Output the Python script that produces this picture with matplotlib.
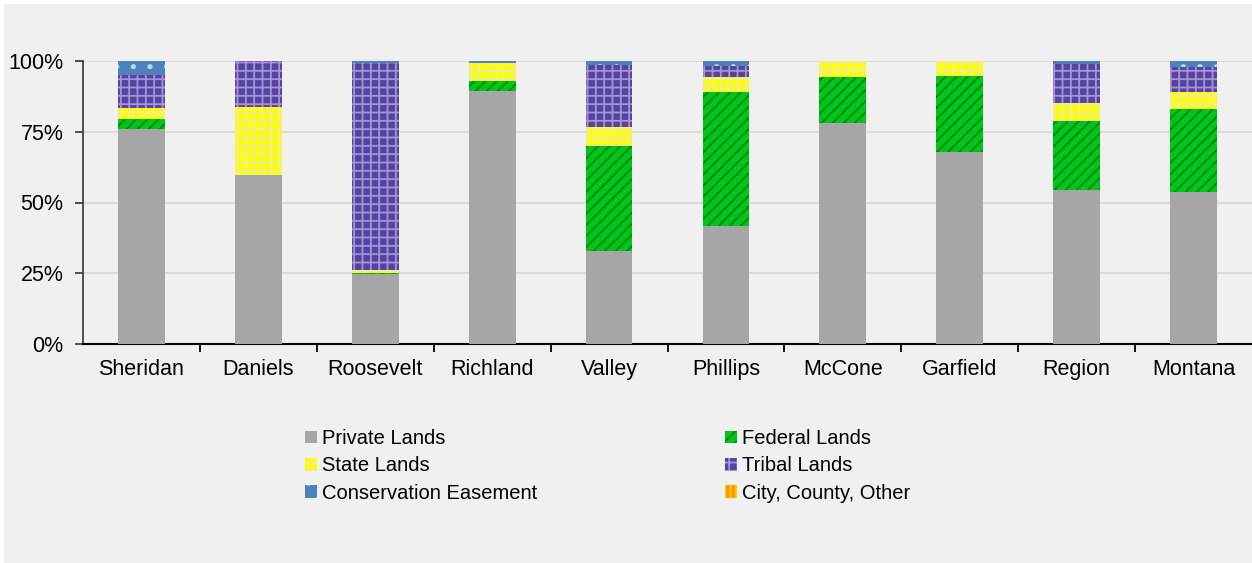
import matplotlib.pyplot as plt
from matplotlib.patches import Rectangle
from matplotlib.ticker import FixedLocator, PercentFormatter

# Share of land area by ownership type, percent of each county total
counties = ["Sheridan", "Daniels", "Roosevelt", "Richland", "Valley",
            "Phillips", "McCone", "Garfield", "Region", "Montana"]
private_lands = [76.0, 59.7, 24.7, 89.4, 32.9, 41.7, 78.2, 67.7, 54.4, 53.8]
federal_lands = [3.4, 0.1, 0.3, 3.5, 37.1, 47.5, 16.3, 27.1, 24.5, 29.1]
state_lands = [4.0, 23.9, 1.1, 6.3, 6.6, 5.0, 5.5, 5.2, 6.4, 6.0]
tribal_lands = [11.6, 16.3, 73.3, 0.0, 22.0, 4.0, 0.0, 0.0, 13.6, 8.9]
conservation_easement = [5.0, 0.0, 0.6, 0.8, 1.4, 1.8, 0.0, 0.0, 1.1, 2.2]
city_county_other = [0.0, 0.0, 0.0, 0.0, 0.0, 0.0, 0.0, 0.0, 0.0, 0.0]

series = [
    ("Private Lands", private_lands, "#a6a6a6", "#a6a6a6", None),
    ("Federal Lands", federal_lands, "#00c41f", "#008a00", "///"),
    ("State Lands", state_lands, "#ffff00", "#ecec9c", "++"),
    ("Tribal Lands", tribal_lands, "#55449f", "#a493d8", "++"),
    ("Conservation Easement", conservation_easement, "#4f81bd", "#a9dcf2", "."),
    ("City, County, Other", city_county_other, "#ff9900", "#ffd200", "|||"),
]

plt.rcParams["font.family"] = ["Liberation Sans", "DejaVu Sans"]
plt.rcParams["hatch.linewidth"] = 1.3

W, H = 1252, 563
fig = plt.figure(figsize=(W / 100, H / 100), dpi=100, facecolor="white")
fig.patches.append(Rectangle((4 / W, 0), 1 - 4 / W, 1 - 4 / H,
                             transform=fig.transFigure, facecolor="#f0f0f0",
                             edgecolor="none", zorder=-10))

ax = fig.add_axes([83 / W, 219 / H, (W - 83) / W, 283 / H])
ax.set_facecolor("none")

x = list(range(len(counties)))
bottom = [0.0] * len(counties)
handles = {}
for name, vals, face, hatch_col, hatch in series:
    bars = ax.bar(x, vals, width=0.4, bottom=bottom, color=face,
                  edgecolor=hatch_col, linewidth=0, hatch=hatch, label=name,
                  zorder=3)
    handles[name] = bars
    bottom = [b + v for b, v in zip(bottom, vals)]

ax.set_xlim(-0.5, len(counties) - 0.5)
ax.set_ylim(0, 100)
ax.set_yticks([0, 25, 50, 75, 100])
ax.yaxis.set_major_formatter(PercentFormatter(decimals=0))
ax.yaxis.grid(True, color="#d9d9d9", linewidth=1.3, zorder=0)
ax.set_axisbelow(True)

# category boundaries get the tick marks, labels sit between them
ax.xaxis.set_major_locator(FixedLocator([i + 0.5 for i in x[:-1]]))
ax.xaxis.set_minor_locator(FixedLocator(x))
ax.xaxis.set_major_formatter(plt.NullFormatter())
ax.set_xticklabels(counties, minor=True)
ax.tick_params(axis="x", which="major", length=6, width=1.3, color="black")
ax.tick_params(axis="x", which="minor", length=0, pad=11, labelsize=15.5)
ax.tick_params(axis="y", length=6, width=1.3, color="#404040", pad=8,
               labelsize=15.5)

for side in ("top", "right"):
    ax.spines[side].set_visible(False)
ax.spines["left"].set_color("#404040")
ax.spines["left"].set_linewidth(1.3)
ax.spines["bottom"].set_color("black")
ax.spines["bottom"].set_linewidth(1.5)

order = ["Private Lands", "State Lands", "Conservation Easement",
         "Federal Lands", "Tribal Lands", "City, County, Other"]
fig.legend([handles[n] for n in order], order, ncol=2, frameon=False,
           loc="upper left", bbox_to_anchor=(305 / W, 1 - 429 / H),
           fontsize=14.5, handlelength=0.6, handleheight=0.6,
           handletextpad=0.25, labelspacing=0.42, columnspacing=9.3,
           borderpad=0, borderaxespad=0)

fig.savefig("out.png", dpi=100, facecolor=fig.get_facecolor())
